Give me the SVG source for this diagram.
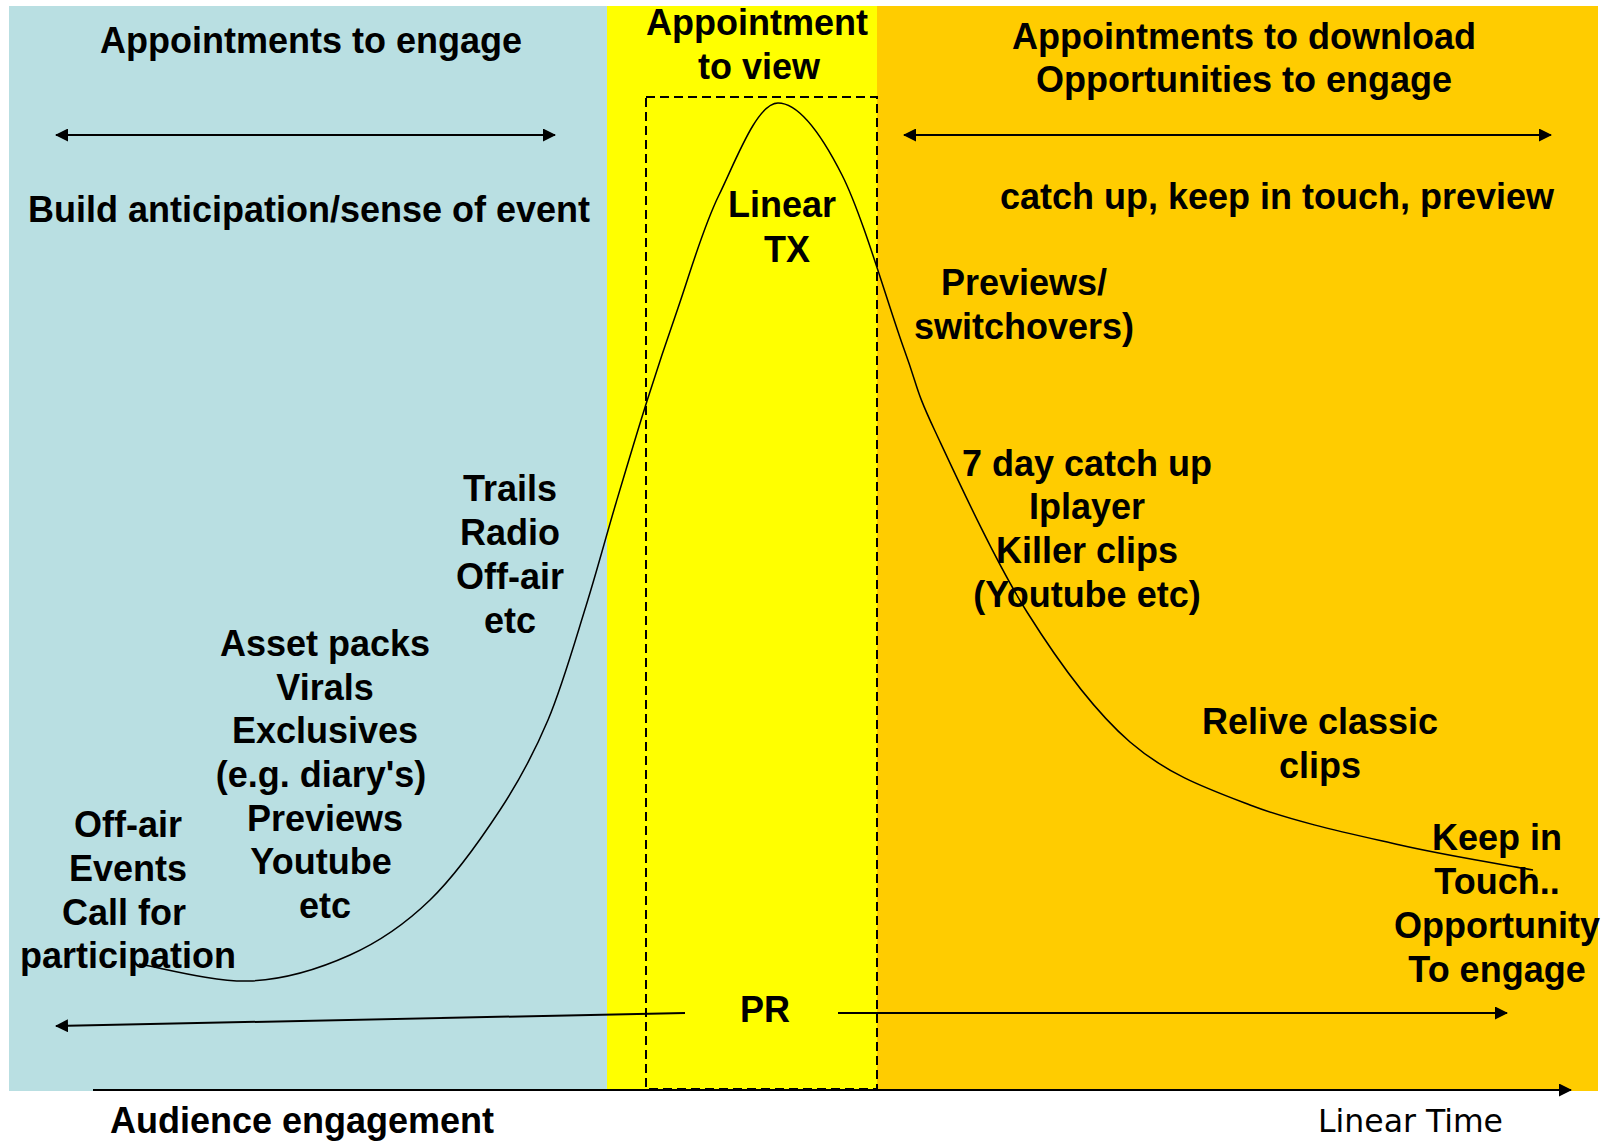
<svg xmlns="http://www.w3.org/2000/svg" width="1611" height="1142" viewBox="0 0 1611 1142">
<style>
.t{font-family:"Liberation Sans",Arial,sans-serif;font-weight:bold;font-size:36px;fill:#000;text-anchor:middle}
.ln{stroke:#000;stroke-width:2;fill:none}
</style>
<defs>
<marker id="ah" viewBox="0 0 13 13" refX="12" refY="6.5" markerWidth="13" markerHeight="13" markerUnits="userSpaceOnUse" orient="auto-start-reverse">
<path d="M0,0 L13,6.5 L0,13 z" fill="#000"/>
</marker>
</defs>
<rect width="1611" height="1142" fill="#fff"/>
<g id="panels">
<rect id="panel-engage" x="9" y="6" width="598" height="1085" fill="#B9DFE2"/>
<rect id="panel-view" x="607" y="6" width="271" height="1085" fill="#FFFF00"/>
<rect id="panel-download" x="877" y="6" width="721" height="1085" fill="#FFCC00"/>
</g>
<g id="linear-tx-box">
<rect x="646" y="97" width="231" height="992" fill="none" stroke="#000" stroke-width="2" stroke-dasharray="9 5"/>
</g>
<g id="connectors">
<line class="ln" x1="555" y1="135" x2="56" y2="135" marker-start="url(#ah)" marker-end="url(#ah)"/>
<line class="ln" x1="904" y1="135" x2="1551" y2="135" marker-start="url(#ah)" marker-end="url(#ah)"/>
<line class="ln" x1="685" y1="1013" x2="56" y2="1026" marker-end="url(#ah)"/>
<line class="ln" x1="838" y1="1013" x2="1507" y2="1013" marker-end="url(#ah)"/>
<line class="ln" x1="93" y1="1090" x2="1571" y2="1090" marker-end="url(#ah)"/>
<path id="engagement-curve" fill="none" stroke="#000" stroke-width="1.5" d="M139,964 C157.5,966.8 214.8,982.5 250,981 C285.2,979.5 320,968.5 350,955 C380,941.5 405,924.2 430,900 C455,875.8 480.3,840 500,810 C519.7,780 533.7,754 548,720 C562.3,686 574.7,642.2 586,606 C597.3,569.8 605.8,537.2 616,503 C626.2,468.8 636.7,433.5 647,401 C657.3,368.5 666,342.3 678,308 C690,273.7 702.2,229.2 719,195 C735.8,160.8 757,103 778,103 C799,103 821.2,134 842,175 C862.8,216 888.5,306.3 904,349 C919.5,391.7 914.5,387.2 935,431 C955.5,474.8 994.5,560.2 1027,612 C1059.5,663.8 1092.8,709.8 1130,742 C1167.2,774.2 1205,787.8 1250,805 C1295,822.2 1352.8,834.2 1400,845 C1447.2,855.8 1510.8,865.8 1533,870"/>
</g>
<g id="header-engage"><text class="t" x="311" y="53">Appointments to engage</text></g>
<g id="header-view"><text class="t" x="757" y="35">Appointment</text><text class="t" x="759" y="79">to view</text></g>
<g id="header-download"><text class="t" x="1244" y="49">Appointments to download</text><text class="t" x="1244" y="92">Opportunities to engage</text></g>
<g id="build"><text class="t" x="309" y="222">Build anticipation/sense of event</text></g>
<g id="catchup"><text class="t" x="1277" y="209">catch up, keep in touch, preview</text></g>
<g id="linear-tx"><text class="t" x="782" y="217">Linear</text><text class="t" x="787" y="262">TX</text></g>
<g id="previews"><text class="t" x="1024" y="295">Previews/</text><text class="t" x="1024" y="339">switchovers)</text></g>
<g id="trails"><text class="t" x="510" y="501">Trails</text><text class="t" x="510" y="545">Radio</text><text class="t" x="510" y="589">Off-air</text><text class="t" x="510" y="633">etc</text></g>
<g id="assets"><text class="t" x="325" y="656">Asset packs</text><text class="t" x="325" y="700">Virals</text><text class="t" x="325" y="743">Exclusives</text><text class="t" x="321" y="787">(e.g. diary's)</text><text class="t" x="325" y="831">Previews</text><text class="t" x="321" y="874">Youtube</text><text class="t" x="325" y="918">etc</text></g>
<g id="offair"><text class="t" x="128" y="837">Off-air</text><text class="t" x="128" y="881">Events</text><text class="t" x="124" y="925">Call for</text><text class="t" x="128" y="968">participation</text></g>
<g id="catchup7"><text class="t" x="1087" y="476">7 day catch up</text><text class="t" x="1087" y="519">Iplayer</text><text class="t" x="1087" y="563">Killer clips</text><text class="t" x="1087" y="607">(Youtube etc)</text></g>
<g id="relive"><text class="t" x="1320" y="734">Relive classic</text><text class="t" x="1320" y="778">clips</text></g>
<g id="keep"><text class="t" x="1497" y="850">Keep in</text><text class="t" x="1497" y="894">Touch..</text><text class="t" x="1497" y="938">Opportunity</text><text class="t" x="1497" y="982">To engage</text></g>
<g id="pr"><text class="t" x="765" y="1022">PR</text></g>
<g id="axis-labels"><text class="t" x="110" y="1133" style="text-anchor:start">Audience engagement</text><text x="1318" y="1132" style="font-family:'DejaVu Sans',Verdana,sans-serif;font-size:31.5px;fill:#000">Linear Time</text></g>
</svg>
